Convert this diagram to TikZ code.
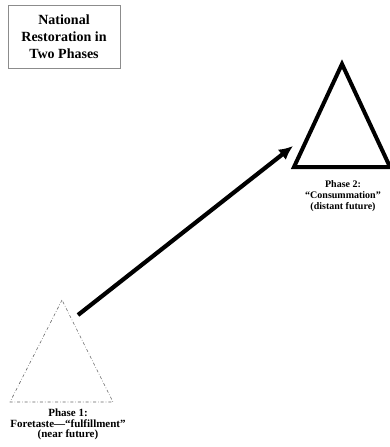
\documentclass[tikz,border=0pt]{standalone}
\usepackage{fontspec}
\setmainfont{Liberation Serif}
\usetikzlibrary{arrows.meta}
\tikzset{
  titlebox/.style={draw=black!45,line width=.6pt,minimum width=112pt,minimum height=63pt,
    align=center,font=\fontsize{14}{17}\selectfont\bfseries,inner sep=2pt},
  phaselabel/.style={align=center,font=\fontsize{10}{11}\selectfont\bfseries,anchor=north,inner sep=0pt},
  bigtri/.style={line width=4pt,line join=miter},
  smalltri/.style={black!60,line width=.6pt,dash dot},
  bigarrow/.style={line width=4.2pt,-{Latex[length=14pt,width=13pt]}},
}
\begin{document}
\begin{tikzpicture}[x=1pt,y=-1pt]
\useasboundingbox (0,0) rectangle (390,447);
% title
\node[titlebox] (title) at (64,36.5) {National\\Restoration in\\Two Phases};
% phase 2: consummation
\coordinate (top2) at (342,64);
\coordinate (left2) at (294,167);
\coordinate (right2) at (390,167);
\draw[bigtri] (top2) -- (left2) -- (right2) -- cycle;
\node[phaselabel] (phase2) at (343,180) {Phase 2:\\``Consummation''\\(distant future)};
% phase 1: foretaste
\coordinate (top1) at (62,300);
\coordinate (left1) at (10,402);
\coordinate (right1) at (113,402);
\draw[smalltri] (top1) -- (left1) -- (right1) -- cycle;
\node[phaselabel,font=\fontsize{11}{10.5}\selectfont\bfseries] (phase1) at (68,409) {Phase 1:\\Foretaste---``fulfillment''\\(near future)};
% arrow
\coordinate (from1) at (78,315);
\coordinate (to2) at (293,146);
\draw[bigarrow] (from1) -- (to2);
\end{tikzpicture}
\end{document}
